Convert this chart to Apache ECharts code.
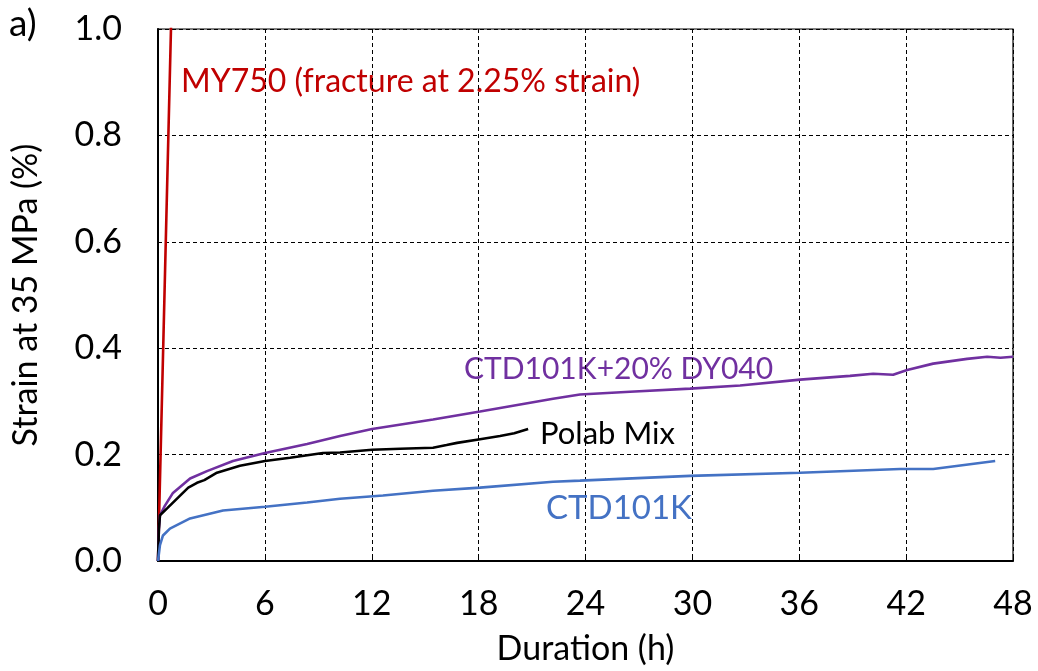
<!DOCTYPE html>
<html>
<head>
<meta charset="utf-8">
<script src="https://cdn.jsdelivr.net/npm/echarts@6/dist/echarts.min.js"></script>
<style>
html,body{margin:0;padding:0;background:#fff;}
#chart{width:1038px;height:671px;}
</style>
</head>
<body>
<div id="chart"></div>
<script>
// ---- data (hours, strain %) ----
const xTicks = [0, 6, 12, 18, 24, 30, 36, 42, 48];
const yTicks = [0.0, 0.2, 0.4, 0.6, 0.8, 1.0];

const my750 = [[0, 0], [0.4, 0.55], [1.64, 2.25]];

const ctdDy040 = [
  [0, 0], [0.05, 0.06], [0.11, 0.086], [0.39, 0.104], [0.84, 0.128], [1.8, 0.155],
  [2.75, 0.169], [4.21, 0.188], [6.01, 0.203], [8.37, 0.220], [10.22, 0.235],
  [12.02, 0.248], [15.44, 0.266], [18.08, 0.281], [22.18, 0.305], [23.69, 0.313],
  [26.5, 0.318], [29.87, 0.324], [32.68, 0.330], [36.05, 0.341], [38.85, 0.348],
  [40.15, 0.352], [41.27, 0.350], [42.06, 0.359], [43.52, 0.371], [45.42, 0.380],
  [46.55, 0.384], [47.3, 0.382], [48.0, 0.384]
];

const polabMix = [
  [0, 0], [0.05, 0.06], [0.11, 0.086], [0.51, 0.099], [1.24, 0.123], [1.7, 0.138],
  [2.19, 0.147], [2.6, 0.152], [3.31, 0.166], [4.6, 0.179], [6.01, 0.188],
  [7.41, 0.194], [9.26, 0.203], [10.22, 0.204], [12.02, 0.209], [13.6, 0.211],
  [15.44, 0.213], [16.2, 0.218], [16.79, 0.222], [18.08, 0.229], [19.2, 0.235],
  [20.0, 0.240], [20.78, 0.248]
];

const ctd101k = [
  [0, 0], [0.11, 0.030], [0.28, 0.048], [0.67, 0.061], [1.8, 0.080], [3.65, 0.095],
  [6.01, 0.102], [8.37, 0.110], [10.22, 0.117], [12.63, 0.123], [15.44, 0.132],
  [18.08, 0.138], [22.18, 0.149], [23.69, 0.151], [29.87, 0.160], [36.05, 0.166],
  [41.66, 0.173], [43.52, 0.173], [47.0, 0.188]
];

const seriesNames = ['MY750', 'CTD101K+20% DY040', 'Polab Mix', 'CTD101K'];
const seriesColors = ['#C00000', '#7030A0', '#000000', '#4472C4'];

const FONT = 'Lato, "Open Sans", sans-serif';
const chart = echarts.init(document.getElementById('chart'));

function mkSeries(name, data, color) {
  return {
    name: name, type: 'line', data: data, showSymbol: false, symbol: 'none',
    smooth: false, clip: true,
    lineStyle: { color: color, width: 2.6 }, z: 3
  };
}

chart.setOption({
  animation: false,
  backgroundColor: '#fff',
  grid: { left: 158, right: 25, top: 29, bottom: 105, show: true, borderColor: '#000', borderWidth: 1.2, containLabel: false },
  xAxis: {
    type: 'value', min: 0, max: 48, interval: 6,
    name: 'Duration (h)', nameLocation: 'middle', nameGap: 71,
    nameTextStyle: { fontFamily: FONT, fontSize: 34, color: '#000' },
    axisLine: { show: true, onZero: false, lineStyle: { color: '#000', width: 2 } },
    axisTick: { show: true, inside: true, length: 5, lineStyle: { color: '#000' } },
    axisLabel: { fontFamily: FONT, fontSize: 34, color: '#000', margin: 26,
      formatter: v => xTicks.includes(v) ? String(v) : '' },
    splitLine: { show: true, lineStyle: { color: '#000', type: [4, 3], width: 1 } }
  },
  yAxis: {
    type: 'value', min: 0, max: 1, interval: 0.2,
    name: 'Strain at 35 MPa (%)', nameLocation: 'middle', nameGap: 115, nameRotate: 90,
    nameTextStyle: { fontFamily: FONT, fontSize: 34, color: '#000' },
    axisLine: { show: true, onZero: false, lineStyle: { color: '#000', width: 2 } },
    axisTick: { show: false },
    axisLabel: { fontFamily: FONT, fontSize: 34, color: '#000', margin: 36,
      formatter: v => v.toFixed(1) },
    splitLine: { show: true, lineStyle: { color: '#000', type: [4, 3], width: 1 } }
  },
  series: [
    mkSeries(seriesNames[0], my750, seriesColors[0]),
    mkSeries(seriesNames[1], ctdDy040, seriesColors[1]),
    mkSeries(seriesNames[2], polabMix, seriesColors[2]),
    mkSeries(seriesNames[3], ctd101k, seriesColors[3])
  ],
  graphic: [
    { type: 'text', left: 9, top: 6, style: { text: 'a)', font: '37px ' + FONT, fill: '#000' } },
    { type: 'text', left: 181, top: 66, style: { text: 'MY750 (fracture at 2.25% strain)', font: '32px ' + FONT, fill: '#C00000' } },
    { type: 'text', left: 464, top: 354, style: { text: 'CTD101K+20% DY040', font: '30px ' + FONT, fill: '#7030A0' } },
    { type: 'text', left: 540, top: 418, style: { text: 'Polab Mix', font: '31px ' + FONT, fill: '#000' } },
    { type: 'text', left: 546, top: 492, style: { text: 'CTD101K', font: '33px ' + FONT, fill: '#4472C4' } }
  ]
});
</script>
</body>
</html>
